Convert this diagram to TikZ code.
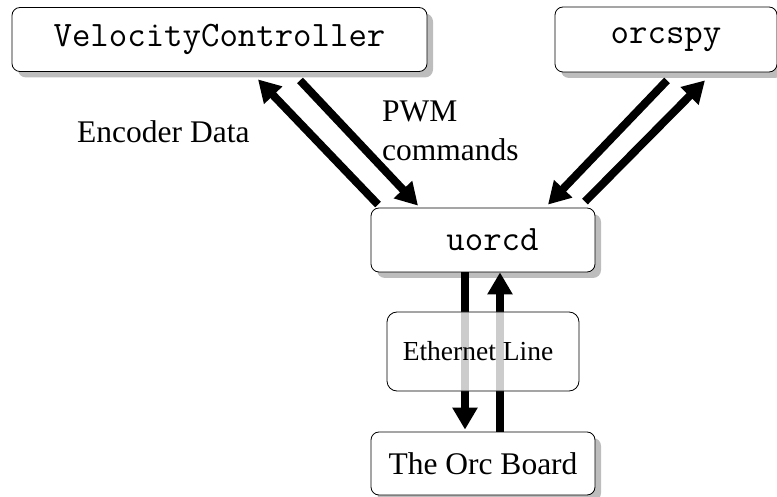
\documentclass[tikz,border=0pt]{standalone}
\usepackage{fontspec}
\setmainfont{Liberation Serif}
\usetikzlibrary{arrows.meta,shadows,calc}

\begin{document}
\begin{tikzpicture}[x=1pt,y=-1pt,
  box/.style={draw=black, line width=0.8pt, rounded corners=8pt, fill=white, inner sep=0pt},
  shadowed/.style={drop shadow={shadow xshift=6pt, shadow yshift=-6pt, fill=black!26, opacity=1}},
  flow/.style={line width=8pt, -{Triangle[length=22pt,width=24pt]}},
  prog/.style={font=\ttfamily\fontsize{35.8}{40}\selectfont},
  lbl/.style={font=\fontsize{31.5}{36}\selectfont, inner sep=0pt}
]
\useasboundingbox (0,0) rectangle (777,497);

% program boxes
\node[box,shadowed,prog,minimum width=415pt,minimum height=64pt] (vc) at (219.5,39.5) {VelocityController};
\node[box,shadowed,prog,minimum width=222pt,minimum height=65pt] (spy) at (666,39.5) {orcspy};
\node[box,shadowed,prog,minimum width=224pt,minimum height=64pt] (uorcd) at (483,240) {\hspace*{19pt}uorcd};
\node[box,shadowed,lbl,minimum width=224pt,minimum height=63pt] (orc) at (483,463.5) {The Orc Board};

% data flows
\draw[flow] ($(uorcd.north)+(-105,-3)$) -- ($(vc.south)+(38.5,7.5)$);
\draw[flow] ($(vc.south)+(80.5,8.5)$) -- ($(uorcd.north)+(-65,-2)$);
\draw[flow] ($(spy.south)+(1,8)$) -- ($(uorcd.north)+(65,-3)$);
\draw[flow] ($(uorcd.north)+(102,-6)$) -- ($(spy.south)+(39,8)$);
\draw[flow] ($(uorcd.south)+(-18,0)$) -- ($(orc.north)+(-18,-2)$);
\draw[flow] ($(orc.north)+(17,0)$) -- ($(uorcd.south)+(17,0)$);

% translucent link box over the vertical flows
\node[box, rounded corners=10pt, fill opacity=0.8, text opacity=1, draw opacity=1,
      minimum width=192pt, minimum height=79pt, font=\fontsize{27.5}{32}\selectfont] (eth) at (483,351.5) {Ethernet Line\hspace*{10pt}};

% flow labels
\node[lbl,anchor=base west] (enc) at (77,143) {Encoder Data};
\node[lbl,anchor=base west] (pwm) at (382,122) {PWM};
\node[lbl,anchor=base west] (cmd) at (382,161) {commands};
\end{tikzpicture}
\end{document}
